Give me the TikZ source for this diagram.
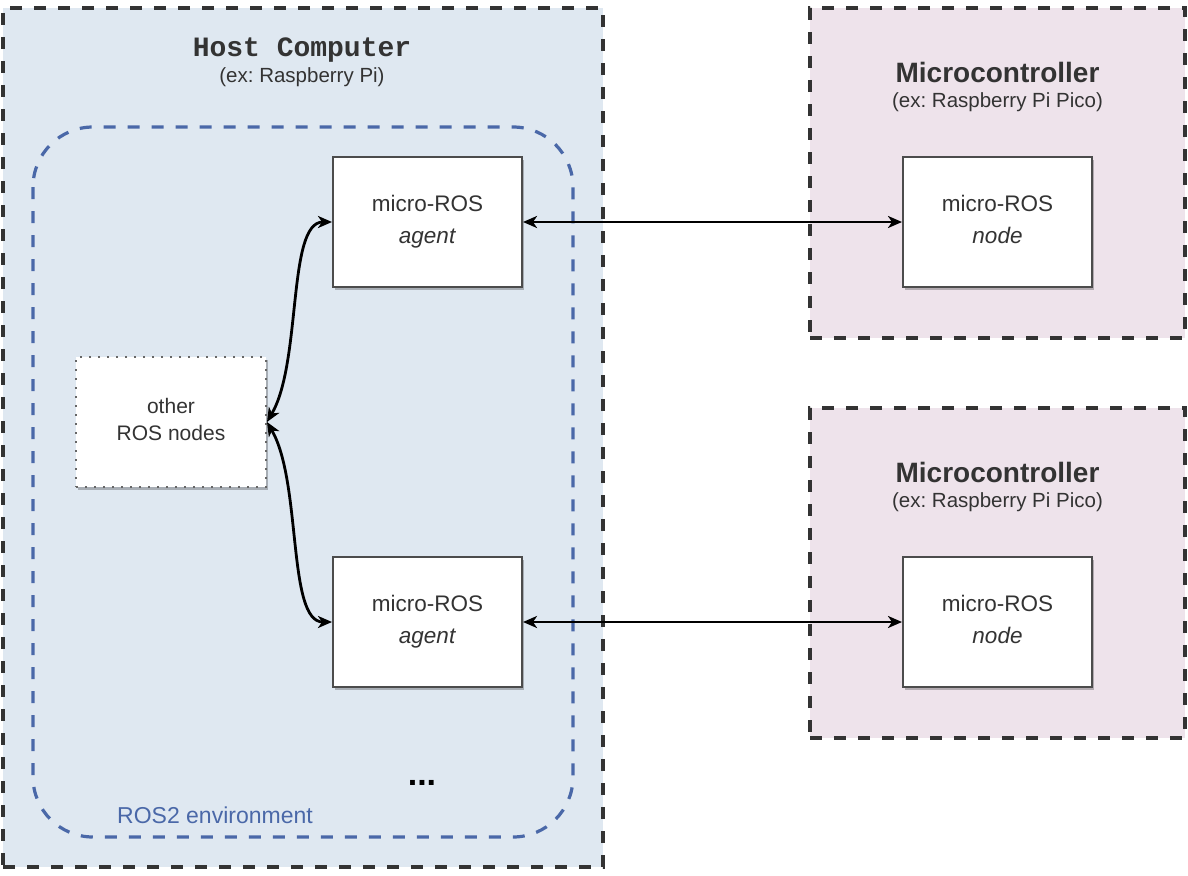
\documentclass[tikz,border=0pt]{standalone}
\usepackage{fontspec}
\setmainfont{Liberation Sans}
\setmonofont{Liberation Mono}
\usetikzlibrary{positioning, arrows.meta, shadows}

\definecolor{hostfill}{HTML}{DFE8F1}
\definecolor{mcufill}{HTML}{EEE3EB}
\definecolor{frame}{HTML}{333333}
\definecolor{rosblue}{HTML}{4A68A8}
\definecolor{txt}{HTML}{333333}

\frenchspacing

\begin{document}
\begin{tikzpicture}[
    x=1pt, y=-1pt,
    >={Stealth[length=14pt, width=12pt, inset=4pt]},
    % Styles
    machine/.style={ % Host or microcontroller frame
        rectangle,
        draw=frame,
        line width=3.5pt,
        dash pattern=on 12pt off 12pt,
        inner sep=0pt
    },
    title/.style={ % Frame title
        text=txt,
        font=\fontsize{28}{32}\selectfont\bfseries
    },
    subtitle/.style={ % Frame subtitle
        text=txt,
        font=\fontsize{20.5}{24}\selectfont
    },
    rosbox/.style={ % micro-ROS box
        rectangle,
        draw=black!70,
        line width=2pt,
        fill=white,
        minimum width=189pt,
        minimum height=130pt,
        align=center,
        text=txt,
        text depth=5pt,
        font=\fontsize{22.5}{32}\selectfont,
        drop shadow={shadow xshift=2pt, shadow yshift=-3pt, opacity=0.25, fill=black}
    },
    link/.style={ % Connector
        <->,
        line width=2.8pt
    }
]

    \useasboundingbox (0,0) rectangle (1188,875);

    % Host computer frame
    \node[machine, fill=hostfill, minimum width=600pt, minimum height=859pt] (host) at (303,437.5) {};
    \node[title, font=\fontsize{28}{32}\selectfont\ttfamily\bfseries] (hosttitle) at (302,50) {Host Computer};
    \node[subtitle] (hostsub) at (302,77) {(ex: Raspberry Pi)};

    % ROS2 environment
    \draw[rosblue, line width=3.2pt, dash pattern=on 12pt off 12pt, rounded corners=60pt]
        (33,127) rectangle (573,837);
    \node[text=rosblue, font=\fontsize{23}{26}\selectfont] (rosenv) at (215,815) {ROS2 environment};

    % Microcontroller frames
    \foreach \i/\y in {1/173, 2/573} {
        \node[machine, fill=mcufill, minimum width=375pt, minimum height=330pt] (mcu\i) at (997.5,\y) {};
        \node[title] (mcutitle\i) at (997.5,\y-101) {Microcontroller};
        \node[subtitle] (mcusub\i) at (997.5,\y-71) {(ex: Raspberry Pi Pico)};
    }

    % micro-ROS agents and nodes
    \node[rosbox] (ag1) at (427.5,222) {micro-ROS\\\textit{agent}};
    \node[rosbox] (ag2) at (427.5,622) {micro-ROS\\\textit{agent}};
    \node[rosbox] (nd1) at (997.5,222) {micro-ROS\\\textit{node}};
    \node[rosbox] (nd2) at (997.5,622) {micro-ROS\\\textit{node}};

    % Other ROS nodes
    \node[rosbox, minimum width=190pt, draw=black!60, dash pattern=on 2pt off 7pt,
        font=\fontsize{21}{27}\selectfont] (oth) at (171,422) {other\\ROS nodes};

    % Continuation dots
    \node[font=\fontsize{34}{36}\selectfont\bfseries] (dots) at (422,783) {...};

    % Links between agents and nodes
    \draw[link] (ag1.east) -- (nd1.west);
    \draw[link] (ag2.east) -- (nd2.west);

    % Links from other ROS nodes to agents
    \draw[link] (oth.east) .. controls +(35,-60) and +(-45,0) .. (ag1.west);
    \draw[link] (oth.east) .. controls +(35,60) and +(-45,0) .. (ag2.west);

\end{tikzpicture}
\end{document}
